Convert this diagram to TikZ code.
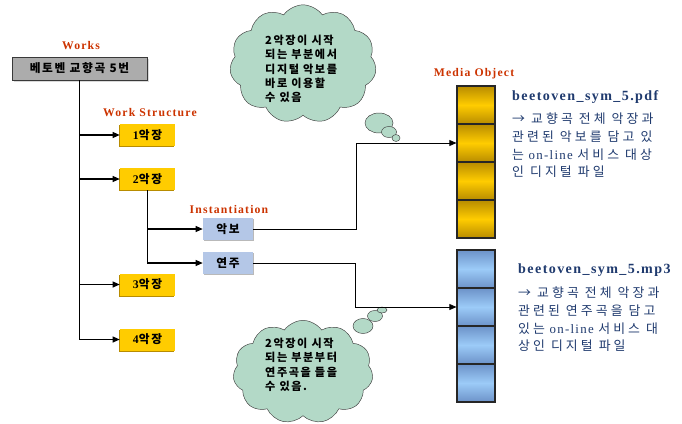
\documentclass[tikz,border=0pt]{standalone}
\usepackage{fontspec}
\setmainfont{Liberation Serif}[LetterSpace=10]
\newfontfamily\kr{Noto Sans CJK KR}[LetterSpace=14]
\newfontfamily\krwide{Noto Sans CJK KR}[LetterSpace=24]
\usetikzlibrary{shapes.symbols,shadows,arrows.meta}

\definecolor{labelred}{HTML}{CC3300}
\definecolor{gold}{HTML}{FFCC00}
\definecolor{darkgold}{HTML}{B88C00}
\definecolor{paleblue}{HTML}{B4C7E7}
\definecolor{skyblue}{HTML}{9CCBF8}
\definecolor{steelblue}{HTML}{6C92C8}
\definecolor{navy}{HTML}{1F3A6E}
\definecolor{mint}{HTML}{B3D9C7}

\tikzset{
  redtitle/.style={text=labelred, font=\bfseries\fontsize{10}{12}\selectfont, inner sep=0pt},
  workbox/.style={fill=gray!65, draw=gray!45!black, line width=.6pt,
    minimum width=4.05cm, minimum height=.69cm, inner sep=0pt,
    font=\bfseries\fontsize{10}{12}\selectfont,
    drop shadow={shadow xshift=2pt, shadow yshift=-2pt, fill=gray!30, opacity=1}},
  movement/.style={fill=gold, minimum width=1.65cm, minimum height=.66cm, inner sep=0pt,
    font=\bfseries\fontsize{10}{12}\selectfont,
    drop shadow={shadow xshift=-1pt, shadow yshift=-1pt, fill=darkgold, opacity=1}},
  instbox/.style={fill=paleblue, minimum width=1.5cm, minimum height=.66cm, inner sep=0pt,
    font=\bfseries\fontsize{10}{12}\selectfont,
    drop shadow={shadow xshift=1.2pt, shadow yshift=-1.2pt, fill=gray!55, opacity=1}},
  cell/.style={draw=black!85, line width=.9pt, minimum size=1.14cm, inner sep=0pt},
  goldcell/.style={cell, top color=darkgold, bottom color=darkgold, middle color=gold},
  bluecell/.style={cell, top color=steelblue, bottom color=steelblue, middle color=skyblue},
  trunk/.style={line width=1.6pt},
  branch/.style={line width=1.1pt},
  link/.style={line width=.7pt},
  thought/.style={cloud, cloud puffs=11, cloud puff arc=110, cloud ignores aspect,
    draw=black!75, fill=mint, inner sep=0pt},
  bubble/.style={draw=black!75, fill=mint},
  thoughttext/.style={align=left, anchor=north west, inner sep=0pt,
    font=\kr\bfseries\fontsize{9.5}{12.2}\selectfont},
  filename/.style={text=navy, anchor=west, inner sep=0pt, font=\bfseries\fontsize{12}{14}\selectfont},
  note/.style={text=navy, align=left, anchor=north west, inner sep=0pt, font=\fontsize{11}{15}\selectfont}
}

\begin{document}
\begin{tikzpicture}[x=0.03cm, y=-0.03cm, >={Triangle[length=6pt,width=5pt]}]
\useasboundingbox (0,0) rectangle (682,423);

% thought clouds
\node[thought, minimum width=4.4cm, minimum height=3.55cm] (cloudscore) at (303,64) {};
\draw[bubble] (379,123) ellipse (14 and 10);
\draw[bubble] (389,132) ellipse (7.5 and 5.5);
\draw[bubble] (396,138) ellipse (4 and 3.5);
\node[thoughttext] (cloudscoretext) at (265,35) {2악장이 시작\\되는 부분에서\\디지털 악보를\\바로 이용할\\수 있음};

\node[thought, minimum width=4.2cm, minimum height=3.1cm] (cloudperf) at (303,372) {};
\draw[bubble] (363,326) ellipse (10 and 7.5);
\draw[bubble] (375,316) ellipse (7.5 and 5.5);
\draw[bubble] (382,310) ellipse (5 and 3);
\node[thoughttext] (cloudperftext) at (265,338) {2악장이 시작\\되는 부분부터\\연주곡을 들을\\수 있음.};

% works and movements
\node[redtitle] (workstitle) at (81,46) {Works};
\node[workbox] (works) at (79.5,68.5) {\kr 베토벤 교향곡 5번};
\node[redtitle] (structtitle) at (150,113) {Work Structure};
\node[movement] (mv1) at (147.5,135) {1{\kr 악장}};
\node[movement] (mv2) at (147.5,179) {2{\kr 악장}};
\node[movement] (mv3) at (147.5,284.5) {3{\kr 악장}};
\node[movement] (mv4) at (147.5,339.5) {4{\kr 악장}};
\draw[trunk] (works.south) -- (works.south |- mv4.west);
\foreach \m in {mv1,mv2,mv3,mv4}
  \draw[branch,->] (works.south |- \m.west) -- (\m.west);

% instantiation
\node[redtitle] (insttitle) at (229,209) {Instantiation};
\node[instbox] (score) at (228,229) {\kr 악보};
\node[instbox] (perf) at (228,263) {\kr 연주};
\draw[branch,->] (mv2.south) |- (score.west);
\draw[branch,->] (mv2.south) |- (perf.west);

% media objects
\node[redtitle] (mediatitle) at (474,74) {Media Object};
\foreach \i/\y in {1/105,2/143,3/181,4/219}
  \node[goldcell] (pdf\i) at (476,\y) {};
\foreach \i/\y in {1/269,2/307,3/345,4/383}
  \node[bluecell] (mp\i) at (476,\y) {};
\draw[link,->] (score.east) -- ++(103,0) |- (pdf2.west);
\draw[link,->] (perf.east) -- ++(102,0) |- (mp2.west);

\node[filename] (pdfname) at (512,97) {beetoven\_sym\_5.pdf};
\node[note] (pdfnote) at (512,113) {{\krwide → 교향곡 전체 악장과}\\{\krwide 관련된 악보를 담고 있}\\{\krwide 는} on-line {\krwide 서비스 대상}\\{\krwide 인 디지털 파일}};
\node[filename] (mp3name) at (518,270) {beetoven\_sym\_5.mp3};
\node[note] (mp3note) at (518,287) {{\krwide → 교향곡 전체 악장과}\\{\krwide 관련된 연주곡을 담고}\\{\krwide 있는} on-line {\krwide 서비스 대}\\{\krwide 상인 디지털 파일}};
\end{tikzpicture}
\end{document}
